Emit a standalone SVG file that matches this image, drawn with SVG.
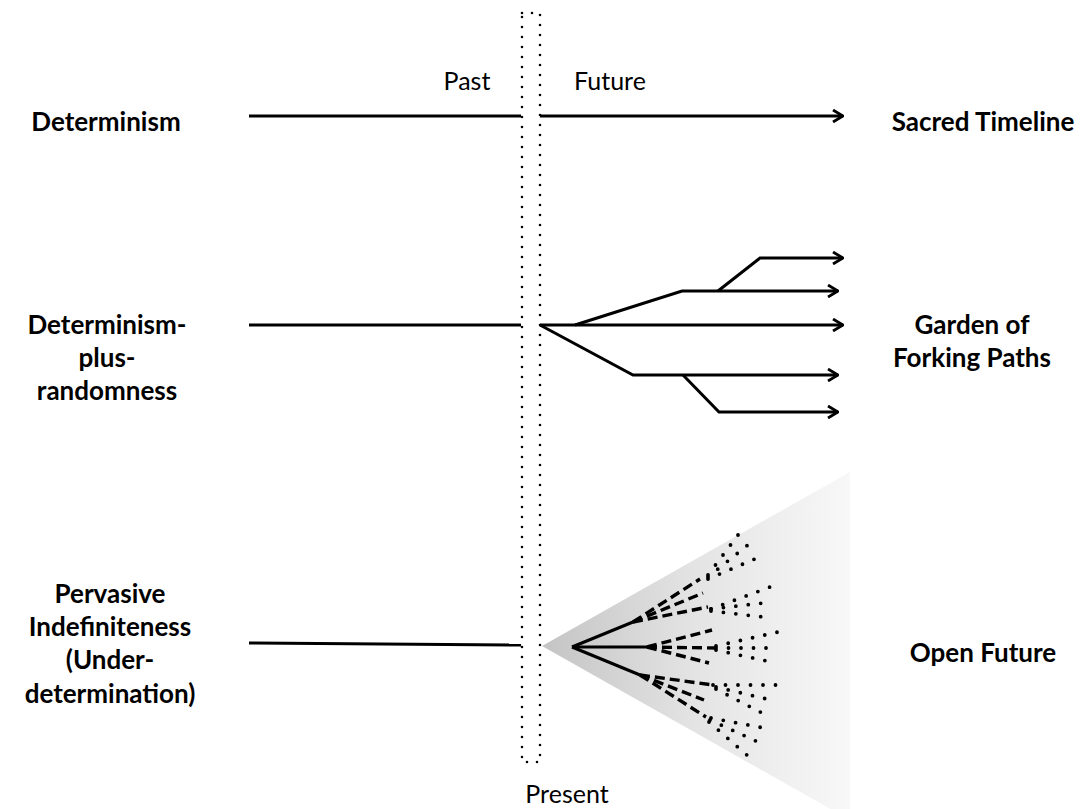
<svg xmlns="http://www.w3.org/2000/svg" width="1085" height="809" viewBox="0 0 1085 809">
<defs>
<style>
.lbl{font-family:Lato,"Noto Sans","Liberation Sans",sans-serif;font-weight:bold;font-size:26px;fill:#000;text-anchor:middle}
.reg{font-family:Lato,"Noto Sans","Liberation Sans",sans-serif;font-size:25px;fill:#000;text-anchor:middle}
.ln{stroke:#000;stroke-width:3;fill:none;stroke-linejoin:round}
.ar{stroke:#000;stroke-width:3;fill:none;marker-end:url(#arr)}
.dash{stroke:#000;stroke-width:3.4;fill:none;stroke-dasharray:10 5}
.dot{stroke:#000;stroke-width:3.8;fill:none;stroke-linecap:round;stroke-dasharray:0 12.5}
</style>
<marker id="arr" viewBox="0 0 12 14" refX="11" refY="7" markerWidth="12" markerHeight="14" markerUnits="userSpaceOnUse" orient="auto">
<path d="M1,1 L11,7 L1,13" fill="none" stroke="#000" stroke-width="2.8"/>
</marker>
<linearGradient id="fade" x1="542" y1="0" x2="850" y2="0" gradientUnits="userSpaceOnUse">
<stop offset="0" stop-color="#c4c4c4"/>
<stop offset="0.5" stop-color="#e4e4e4"/>
<stop offset="1" stop-color="#f8f8f8"/>
</linearGradient>
</defs>
<rect width="1085" height="809" fill="#fff"/>

<g id="present">
<rect x="522" y="13" width="18" height="749" fill="none" stroke="#000" stroke-width="2.6" stroke-linecap="round" stroke-dasharray="0 10"/>
<text class="reg" x="567" y="803">Present</text>
</g>
<g id="past"><text class="reg" x="467" y="90">Past</text></g>
<g id="future"><text class="reg" x="610" y="90">Future</text></g>

<g id="determinism"><text class="lbl" x="106" y="131">Determinism</text></g>
<g id="sacred-timeline"><text class="lbl" x="983" y="131">Sacred Timeline</text></g>

<g id="determinism-plus-randomness">
<text class="lbl" x="107" y="334">Determinism-</text>
<text class="lbl" x="107" y="367">plus-</text>
<text class="lbl" x="107" y="400">randomness</text>
</g>
<g id="garden-of-forking-paths">
<text class="lbl" x="972" y="334">Garden of</text>
<text class="lbl" x="972" y="367">Forking Paths</text>
</g>

<g id="pervasive-indefiniteness">
<text class="lbl" x="110" y="603">Pervasive</text>
<text class="lbl" x="110" y="636">Indefiniteness</text>
<text class="lbl" x="110" y="669">(Under-</text>
<text class="lbl" x="110" y="703">determination)</text>
</g>
<g id="open-future"><text class="lbl" x="983" y="662">Open Future</text></g>

<g id="open-future-cone">
<polygon points="542,646 850,472 850,820" fill="url(#fade)"/>
</g>

<g id="connectors">
<line class="ln" x1="249" y1="116" x2="521" y2="116"/>
<line class="ar" x1="540" y1="116" x2="843" y2="116"/>

<line class="ln" x1="249" y1="325" x2="521" y2="325"/>
<line class="ar" x1="540" y1="325" x2="843" y2="325"/>
<polyline class="ar" points="575,325 682,291 838,291"/>
<polyline class="ar" points="718,291 760,258 843,258"/>
<polyline class="ar" points="540,325 633,375 838,375"/>
<polyline class="ar" points="683,375 719,412 838,412"/>

<line class="ln" x1="249" y1="643" x2="521" y2="645"/>
<line class="ln" x1="572" y1="647" x2="633" y2="622"/>
<line class="ln" x1="572" y1="647" x2="647" y2="647"/>
<line class="ln" x1="572" y1="647" x2="640" y2="675"/>

<line class="dash" x1="633" y1="622" x2="700" y2="579"/>
<line class="dash" x1="633" y1="622" x2="703" y2="593"/>
<line class="dash" x1="633" y1="622" x2="708" y2="607"/>
<line class="dash" x1="647" y1="647" x2="712" y2="630"/>
<line class="dash" x1="647" y1="647" x2="716" y2="648"/>
<line class="dash" x1="647" y1="647" x2="709" y2="663"/>
<line class="dash" x1="640" y1="675" x2="713" y2="685"/>
<line class="dash" x1="640" y1="675" x2="704" y2="700"/>
<line class="dash" x1="640" y1="675" x2="706" y2="717"/>

<line class="dot" x1="708" y1="575" x2="741" y2="531"/>
<line class="dot" x1="708" y1="577" x2="749" y2="544"/>
<line class="dot" x1="708" y1="579" x2="757" y2="558"/>
<line class="dot" x1="711" y1="609" x2="770" y2="587"/>
<line class="dot" x1="711" y1="609" x2="772" y2="602"/>
<line class="dot" x1="711" y1="611" x2="772" y2="618"/>
<line class="dot" x1="716" y1="646" x2="778" y2="632"/>
<line class="dot" x1="716" y1="648" x2="777" y2="648"/>
<line class="dot" x1="716" y1="650" x2="776" y2="663"/>
<line class="dot" x1="713" y1="685" x2="776" y2="685"/>
<line class="dot" x1="716" y1="687" x2="771" y2="700"/>
<line class="dot" x1="716" y1="689" x2="766" y2="715"/>
<line class="dot" x1="711" y1="718" x2="764" y2="728"/>
<line class="dot" x1="710" y1="720" x2="758" y2="742"/>
<line class="dot" x1="709" y1="722" x2="748" y2="756"/>
</g>
</svg>
